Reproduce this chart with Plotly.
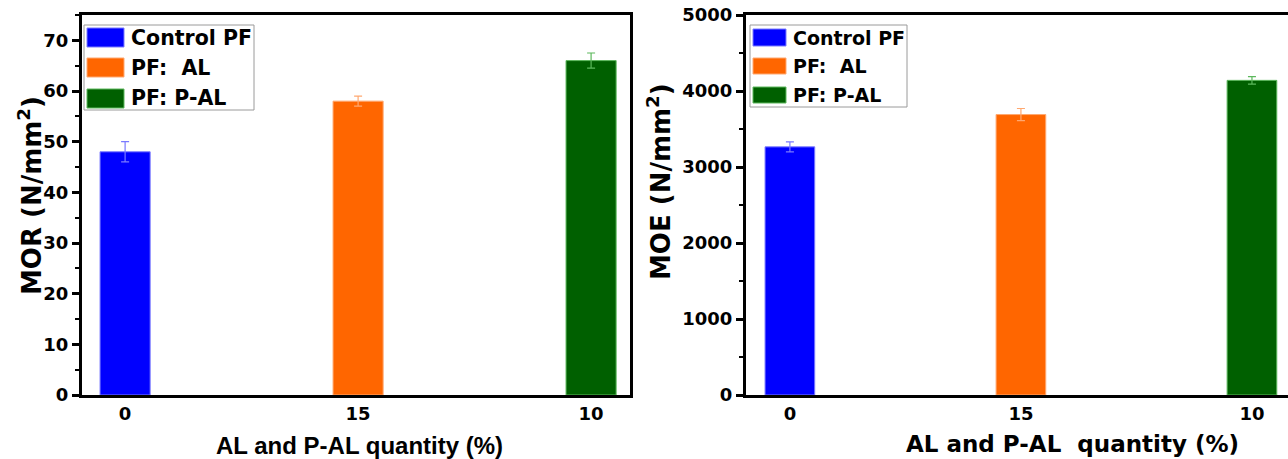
import plotly.graph_objects as go

# ---------------- data ----------------
categories = ["0", "15", "10"]
series_names = ["Control PF", "PF:  AL", "PF: P-AL"]
mor_values = [48.0, 58.0, 66.0]
mor_errors = [2.0, 1.0, 1.5]
moe_values = [3265, 3690, 4140]
moe_errors = [65, 80, 50]
x_title_left = "AL and P-AL quantity (%)"
x_title_right = "AL and P-AL  quantity (%)"
y_title_left = "MOR (N/mm<sup>2</sup>)"
y_title_right = "MOE (N/mm<sup>2</sup>)"

bar_colors = ["#0000FF", "#FF6600", "#006000"]
edge_colors = ["#7a7aff", "#ffa870", "#5cb85c"]

W, H = 1288, 459
T, B = 15, 64
PLOT_H = H - T - B


def px(x):
    return x / W


def py(y):
    return (H - B - y) / PLOT_H


def keep_spaces(s):
    return s.replace("  ", " &nbsp;")


fig = go.Figure()

for i, cat in enumerate(categories):
    fig.add_trace(go.Bar(
        x=[i], y=[mor_values[i]], width=0.215,
        marker=dict(color=bar_colors[i], line=dict(color=edge_colors[i], width=1)),
        error_y=dict(type="data", array=[mor_errors[i]], color=edge_colors[i],
                     thickness=1.2, width=4),
        xaxis="x", yaxis="y", showlegend=False, name=series_names[i]))
    fig.add_trace(go.Bar(
        x=[i], y=[moe_values[i]], width=0.215,
        marker=dict(color=bar_colors[i], line=dict(color=edge_colors[i], width=1)),
        error_y=dict(type="data", array=[moe_errors[i]], color=edge_colors[i],
                     thickness=1.2, width=4),
        xaxis="x2", yaxis="y2", showlegend=False, name=series_names[i]))

tickfont = dict(family="DejaVu Sans", size=18, color="black", weight="bold")

common_x = dict(
    tickvals=list(range(len(categories))), ticktext=categories,
    showline=True, linewidth=3, linecolor="black", mirror=True,
    ticks="", showgrid=False, zeroline=False, tickfont=tickfont, fixedrange=True,
)
common_y = dict(
    showline=True, linewidth=3, linecolor="black",
    ticks="outside", ticklen=7, tickwidth=2.5, tickcolor="black",
    showgrid=False, zeroline=False, tickfont=tickfont,
)

fig.update_layout(
    width=W, height=H,
    margin=dict(l=0, r=0, t=T, b=B),
    plot_bgcolor="white", paper_bgcolor="white",
    barmode="overlay",
    xaxis=dict(domain=[px(82), px(630)], range=[-0.185, 2.167], anchor="y", **common_x),
    yaxis=dict(range=[0, 75], dtick=10, anchor="x", mirror=True,
               minor=dict(dtick=5, ticks="outside", ticklen=4, tickwidth=2, tickcolor="black"),
               **common_y),
    xaxis2=dict(domain=[px(746), 1.0], range=[-0.19, 2.156], anchor="y2", **common_x),
    yaxis2=dict(range=[0, 5000], dtick=1000, anchor="x2", mirror=False,
                minor=dict(dtick=500, ticks="outside", ticklen=4, tickwidth=2, tickcolor="black"),
                **common_y),
)

shapes = []
annotations = []

# manual legends
legend_specs = [
    dict(box=(84, 25, 254, 110), sw_x=(87, 124),
         sw_y=[(28, 47), (58, 77), (89, 108)], tx=129, fs=20.5),
    dict(box=(750, 25, 907, 107), sw_x=(753, 786),
         sw_y=[(29, 46), (58, 74), (87, 103)], tx=791, fs=19),
]
for spec in legend_specs:
    x0, y0, x1, y1 = spec["box"]
    shapes.append(dict(type="rect", xref="paper", yref="paper",
                       x0=px(x0), x1=px(x1), y0=py(y1), y1=py(y0),
                       line=dict(color="#9a9a9a", width=1), fillcolor="white", layer="above"))
    for i, name in enumerate(series_names):
        a, b = spec["sw_y"][i]
        shapes.append(dict(type="rect", xref="paper", yref="paper",
                           x0=px(spec["sw_x"][0]), x1=px(spec["sw_x"][1]),
                           y0=py(b), y1=py(a),
                           line=dict(color=edge_colors[i], width=1),
                           fillcolor=bar_colors[i], layer="above"))
        annotations.append(dict(xref="paper", yref="paper", x=px(spec["tx"]),
                                y=py((a + b) / 2), xanchor="left", yanchor="middle",
                                text=keep_spaces(name), showarrow=False,
                                font=dict(family="DejaVu Sans", size=spec["fs"],
                                          color="black", weight="bold")))

# axis titles
annotations.append(dict(xref="paper", yref="paper", x=px(359), y=py(445),
                        xanchor="center", yanchor="middle", showarrow=False,
                        text=keep_spaces(x_title_left),
                        font=dict(family="Liberation Sans", size=24, color="black", weight="bold")))
annotations.append(dict(xref="paper", yref="paper", x=px(1072), y=py(444),
                        xanchor="center", yanchor="middle", showarrow=False,
                        text=keep_spaces(x_title_right),
                        font=dict(family="DejaVu Sans", size=23, color="black", weight="bold")))
annotations.append(dict(xref="paper", yref="paper", x=px(30), y=py(196),
                        xanchor="center", yanchor="middle", showarrow=False, textangle=-90,
                        text=y_title_left,
                        font=dict(family="DejaVu Sans", size=26, color="black", weight="bold")))
annotations.append(dict(xref="paper", yref="paper", x=px(659), y=py(182),
                        xanchor="center", yanchor="middle", showarrow=False, textangle=-90,
                        text=y_title_right,
                        font=dict(family="DejaVu Sans", size=26, color="black", weight="bold")))

fig.update_layout(shapes=shapes, annotations=annotations)

fig.write_html("out.html")
